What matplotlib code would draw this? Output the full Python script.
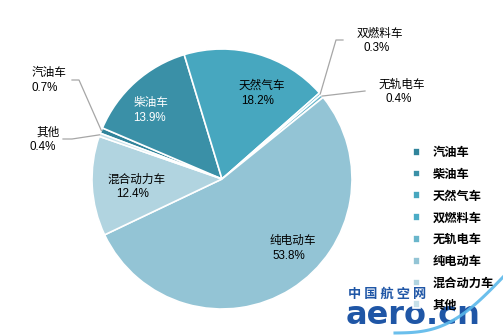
import matplotlib
matplotlib.use("Agg")
import matplotlib.pyplot as plt
import numpy as np

plt.rcParams['font.family'] = ['Liberation Sans', 'Noto Sans CJK SC', 'DejaVu Sans']

categories = ['汽油车', '柴油车', '天然气车', '双燃料车', '无轨电车', '纯电动车', '混合动力车', '其他']
shares = [0.7, 13.9, 18.2, 0.3, 0.4, 53.8, 12.4, 0.4]
colors = ['#31849B', '#3A90A7', '#47A7BF', '#4BACC6', '#69B6CB', '#93C4D5', '#B1D4E0', '#C6E0E9']

W, H = 503, 336


def px(x, y):
    """Image-style pixel position (origin top-left) to data coords."""
    return x, H - y


fig = plt.figure(figsize=(W / 100, H / 100), dpi=100)
ax = fig.add_axes([0, 0, 1, 1])

cx, cy = px(222, 179)
R = 130
wedges, _ = ax.pie(shares, colors=colors, startangle=159.4, counterclock=False,
                   center=(cx, cy), radius=R,
                   wedgeprops=dict(edgecolor='white', linewidth=1.2))
ax.set_xlim(0, W)
ax.set_ylim(0, H)
ax.set_aspect('equal')
ax.axis('off')

fs = 8.4
# label layout: (name position, percent position, text colour)
inside = {
    '柴油车': ((151, 103), (149, 118), 'white'),
    '天然气车': ((262, 86), (258, 101), 'black'),
    '混合动力车': ((137, 180), (133, 194), 'black'),
    '纯电动车': ((293, 241), (289, 256), 'black'),
}
outside = {
    '汽油车': ((49, 73), (45, 88), [(79, 80), (72, 80)]),
    '其他': ((48, 133), (43, 147), [(72, 139), (63, 139)]),
    '双燃料车': ((380, 34), (377, 48), [(336, 40), (343, 40)]),
    '无轨电车': ((402, 85), (399, 99), [(365, 91)]),
}

for w, name, val in zip(wedges, categories, shares):
    pct = f'{val:.1f}%'
    if name in inside:
        p1, p2, c = inside[name]
        ax.text(*px(*p1), name, ha='center', va='center', fontsize=fs, color=c)
        ax.text(*px(*p2), pct, ha='center', va='center', fontsize=fs, color=c)
    elif name in outside:
        p1, p2, elbow = outside[name]
        mid = np.deg2rad((w.theta1 + w.theta2) / 2)
        sx, sy = cx + R * np.cos(mid), cy + R * np.sin(mid)
        pts = [(sx, sy)] + [px(*e) for e in elbow]
        xs, ys = zip(*pts)
        ax.plot(xs, ys, color='#A6A6A6', lw=0.9, zorder=1)
        ax.text(*px(*p1), name, ha='center', va='center', fontsize=fs, color='black')
        ax.text(*px(*p2), pct, ha='center', va='center', fontsize=fs, color='black')

# watermark
ax.text(*px(348, 294), '中 国 航 空 网', ha='left', va='center', fontsize=9.5,
        color='#1F56A6', fontweight='bold', family=['Noto Sans CJK SC'], zorder=3)
ax.text(*px(346, 315), 'aero.cn', ha='left', va='center', fontsize=23,
        color='#1F56A6', fontweight='bold', family=['DejaVu Sans'], zorder=3)
t = np.linspace(0, 1, 60)
swx = 395 + 110 * t
swy = 333 - 58 * t + 18 * np.sin(np.pi * t)
ax.plot(*px(swx, swy), color='#5BB8EA', lw=2.2, alpha=0.9, zorder=3.5)

leg = ax.legend(wedges, categories, loc='upper left',
                bbox_to_anchor=(413 / W, 1 - 146 / H), frameon=False,
                prop=dict(size=8.8, weight='bold', family=['Noto Sans CJK SC']),
                handlelength=0.6, handleheight=0.6, handletextpad=1.0,
                labelspacing=0.72, borderpad=0, borderaxespad=0)
leg.set_zorder(4)

fig.savefig('out.png', dpi=100)
